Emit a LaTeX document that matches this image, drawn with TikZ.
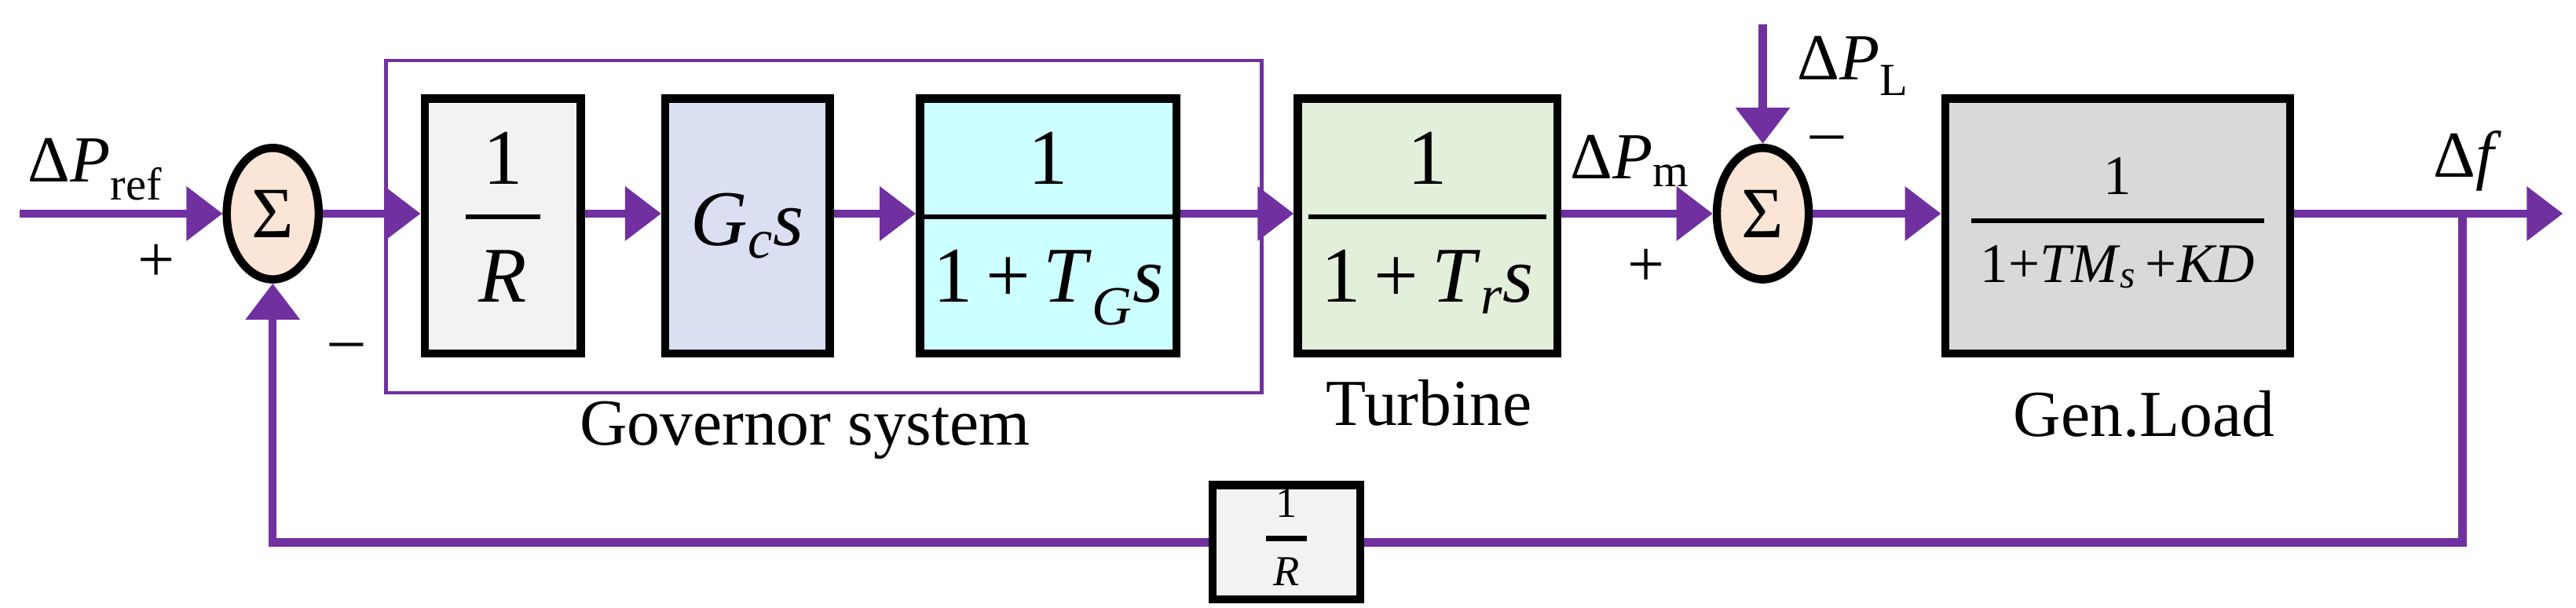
\documentclass[tikz,border=0pt]{standalone}
\usepackage{fontspec}
\setmainfont{Liberation Serif}
\usetikzlibrary{arrows.meta,shapes.geometric}
\definecolor{pur}{HTML}{7030A0}
\definecolor{sumc}{HTML}{FBE5D6}
\newcommand{\fr}[2]{{\setlength\arrayrulewidth{3pt}\begin{tabular}{@{\,}c@{\,}}#1\\[3pt]\hline\rule{0pt}{1.05em}#2\end{tabular}}}
\newcommand{\ii}[1]{\textit{#1}}
\newcommand{\sbs}[1]{\textsubscript{#1}}
\tikzset{
 blk/.style={draw=black,line width=5pt,minimum height=155pt,inner sep=0pt},
 sumn/.style={draw=black,line width=5pt,ellipse,fill=sumc,minimum width=56pt,minimum height=80pt,inner sep=-30pt,font=\fontsize{44}{48}\selectfont},
 sig/.style={draw=pur,line width=5pt,-{Triangle[length=22pt,width=32pt]}},
 wire/.style={draw=pur,line width=5pt},
 lab/.style={font=\fontsize{40}{44}\selectfont,inner sep=0pt},
 big/.style={font=\fontsize{48}{52}\selectfont}
}
\begin{document}
\begin{tikzpicture}[x=1pt,y=-1pt]
\useasboundingbox (0,0) rectangle (1568,370);
\draw[pur,line width=2pt] (235,37) rectangle (768,239);
\node[sumn] (s1) at (166,130) {Σ};
\node[sumn] (s2) at (1073,130) {Σ};
\node[blk,big,fill=black!5,minimum width=95pt] (b1) at (306,137.5) {\fr{1}{\ii{R}}};
\node[blk,big,fill={rgb,255:red,218;green,224;blue,242},minimum width=100pt] (b2) at (455,137.5) {\ii{G}\sbs{\ii{c}}\ii{s}};
\node[blk,big,fill={rgb,255:red,204;green,255;blue,255},minimum width=152pt] (b3) at (638,137.5) {\fr{1}{1\,+\,\ii{T}\sbs{\ii{G}}\ii{s}}};
\node[blk,big,fill={rgb,255:red,226;green,239;blue,218},minimum width=158pt] (b4) at (869,137.5) {\fr{1}{1\,+\,\ii{T}\sbs{\ii{r}}\ii{s}}};
\node[blk,fill=black!15,minimum width=210pt,font=\fontsize{34}{38}\selectfont] (b5) at (1289,137.5) {\fr{1}{1+\ii{TM}\sbs{\ii{s}}\,+\ii{KD}}};
\node[draw=black,line width=5pt,fill=black!5,minimum width=90pt,minimum height=66pt,inner sep=0pt,font=\fontsize{26}{28}\selectfont] (fb) at (783,330) {\fr{1}{\ii{R}}};
\coordinate (in) at (12,130);
\coordinate (pl) at (1073,15);
\coordinate (out) at (1560,130);
\coordinate (br) at (1499,130);
\coordinate (bb) at (1499,330);
\coordinate (fl) at (166,330);
\draw[sig] (in) -- (s1.west);
\draw[sig] (s1.east) -- (s1.east -| b1.west);
\draw[sig] (b1.east |- s1) -- (b2.west |- s1);
\draw[sig] (b2.east |- s1) -- (b3.west |- s1);
\draw[sig] (b3.east |- s1) -- (b4.west |- s1);
\draw[sig] (b4.east |- s2) -- (s2.west);
\draw[sig] (s2.east) -- (s2.east -| b5.west);
\draw[sig] (pl) -- (s2.north);
\draw[sig] (b5.east |- out) -- (out);
\draw[wire] (br) -- (bb) -- (fb.east);
\draw[sig] (fb.west) -- (fl) -- (s1.south);
\node[lab] (t1) at (58,103) {Δ\ii{P}\sbs{ref}};
\node[lab] (t2) at (95,160) {+};
\node[lab] (t3) at (211,214) {–};
\node[lab] (t4) at (992,98) {Δ\ii{P}\sbs{m}};
\node[lab] (t5) at (1002,163) {+};
\node[lab] (t6) at (1112,88) {–};
\node[lab] (t7) at (1128,40) {Δ\ii{P}\sbs{L}};
\node[lab] (t8) at (1502,98) {Δ\ii{f}};
\node[lab] (g1) at (490,262) {Governor system};
\node[lab] (g2) at (870,245) {Turbine};
\node[lab] (g3) at (1305,252) {Gen.Load};
\end{tikzpicture}
\end{document}
